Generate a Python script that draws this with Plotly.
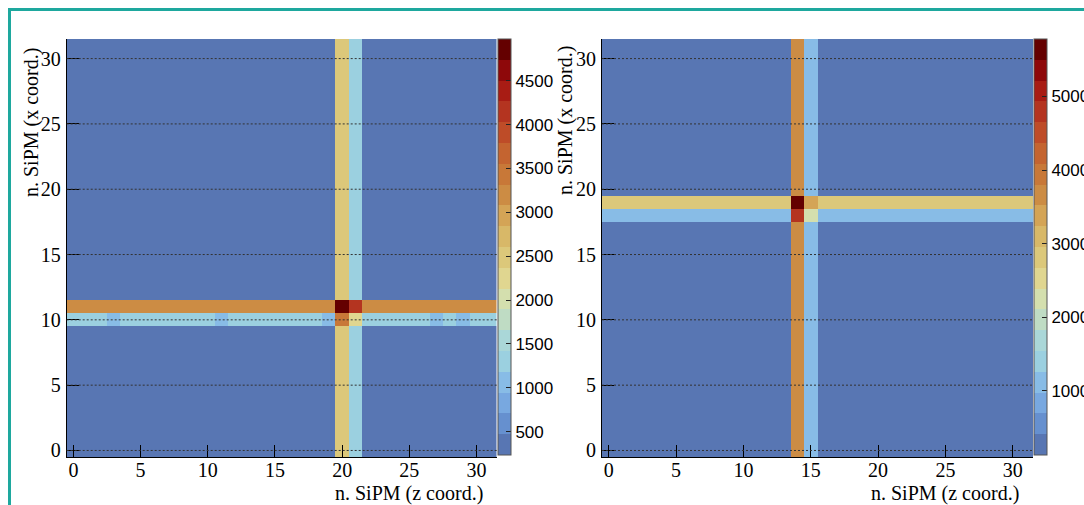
import plotly.graph_objects as go

W, H = 1084, 505

# SiPM indices along each coordinate
sipm = list(range(32))
tick_vals = [0, 5, 10, 15, 20, 25, 30]

# ---- left event: hit around z=20-21, x=10-11 ----
left_bg = 234
left_row10 = [1300, 1300, 1300, 1060, 1300, 1300, 1300, 1300, 1300, 1300, 1300, 1060, 1300, 1300, 1300, 1300,
              1300, 1300, 1300, 1060, 3550, 2250, 1300, 1300, 1300, 1300, 1300, 1060, 1300, 1060, 1300, 1300]
left_row11 = [3200, 3200, 3200, 3200, 3200, 3200, 3200, 3200, 3200, 3200, 3200, 3200, 3200, 3200, 3200, 3200,
              3200, 3200, 3200, 3200, 4975, 4200, 3200, 3200, 3200, 3200, 3200, 3200, 3200, 3200, 3200, 3200]
left_col20 = [2500, 2500, 2500, 2500, 2500, 2500, 2500, 2500, 2500, 2500, 3550, 4975, 2500, 2500, 2500, 2500,
              2500, 2500, 2500, 2500, 2500, 2500, 2500, 2500, 2500, 2500, 2500, 2500, 2500, 2500, 2500, 2500]
left_col21 = [1300, 1300, 1300, 1300, 1300, 1300, 1300, 1300, 1300, 1300, 2250, 4200, 1300, 1300, 1300, 1300,
              1300, 1300, 1300, 1300, 1300, 1300, 1300, 1300, 1300, 1300, 1300, 1300, 1300, 1300, 1300, 1300]
left_zmin, left_zmax = 234, 4975
left_cb_ticks = [500, 1000, 1500, 2000, 2500, 3000, 3500, 4000, 4500]

# ---- right event: hit around z=14-15, x=18-19 ----
right_bg = 130
right_row18 = [1100, 1100, 1100, 1100, 1100, 1100, 1100, 1100, 1100, 1100, 1100, 1100, 1100, 1100, 4790, 2250,
               1100, 1100, 1100, 1100, 1100, 1100, 1100, 1100, 1100, 1100, 1100, 1100, 1100, 1100, 1100, 1100]
right_row19 = [2810, 2810, 2810, 2810, 2810, 2810, 2810, 2810, 2810, 2810, 2810, 2810, 2810, 2810, 5780, 3380,
               2810, 2810, 2810, 2810, 2810, 2810, 2810, 2810, 2810, 2810, 2810, 2810, 2810, 2810, 2810, 2810]
right_col14 = [3650, 3650, 3650, 3650, 3650, 3650, 3650, 3650, 3650, 3650, 3650, 3650, 3650, 3650, 3650, 3650,
               3650, 3650, 4790, 5780, 3650, 3650, 3650, 3650, 3650, 3650, 3650, 3650, 3650, 3650, 3650, 3650]
right_col15 = [1080, 1080, 1080, 1080, 1080, 1080, 1080, 1080, 1080, 1080, 1080, 1080, 1080, 1080, 1080, 1080,
               1080, 1080, 2250, 3380, 1080, 1080, 1080, 1080, 1080, 1080, 1080, 1080, 1080, 1080, 1080, 1080]
right_zmin, right_zmax = 130, 5780
right_cb_ticks = [1000, 2000, 3000, 4000, 5000]

# 20-level palette (low -> high)
palette = ["#5876b3", "#6690cf", "#78a8e0", "#88bce6", "#9bd0e0", "#aad7d8", "#bfdcc4", "#d4dfae",
           "#e0d690", "#dcc87a", "#d8b868", "#d4a456", "#cc8c44", "#c87838", "#c46430", "#be4c28",
           "#b43420", "#a81c14", "#8e080a", "#640000"]


def stepped_scale(colors):
    n = len(colors)
    scale = []
    for k, c in enumerate(colors):
        scale.append([k / n, c])
        scale.append([(k + 1) / n, c])
    return scale


def build_grid(bg, rows, cols):
    grid = [[bg for _ in sipm] for _ in sipm]
    for r, vals in rows.items():
        for c, v in enumerate(vals):
            grid[r][c] = v
    for c, vals in cols.items():
        for r, v in enumerate(vals):
            grid[r][c] = v
    return grid


z_left = build_grid(left_bg, {10: left_row10, 11: left_row11}, {20: left_col20, 21: left_col21})
z_right = build_grid(right_bg, {18: right_row18, 19: right_row19}, {14: right_col14, 15: right_col15})


def px_x(p):
    return p / W


def px_y(p):
    return 1 - p / H


y_dom = [px_y(457), px_y(39)]
x_dom_l = [px_x(66.7), px_x(496.7)]
x_dom_r = [px_x(602), px_x(1033)]

SERIF = "Liberation Serif, Times New Roman, serif"
SANS = "Liberation Sans, Arial, sans-serif"


def colorbar(x_px, ticks):
    return dict(
        x=px_x(x_px), xanchor="left", y=px_y(455), yanchor="bottom",
        len=(455 - 39) / H, lenmode="fraction",
        thickness=13, thicknessmode="pixels", xpad=0, ypad=0,
        tickvals=ticks, ticks="inside", ticklen=5, tickcolor="#222",
        tickfont=dict(family=SANS, size=17, color="black"),
        outlinewidth=1, outlinecolor="#555",
    )


fig = go.Figure()
fig.add_trace(go.Heatmap(
    x=sipm, y=sipm, z=z_left, zmin=left_zmin, zmax=left_zmax,
    colorscale=stepped_scale(palette), colorbar=colorbar(498, left_cb_ticks),
    xaxis="x", yaxis="y", hoverinfo="x+y+z",
))
fig.add_trace(go.Heatmap(
    x=sipm, y=sipm, z=z_right, zmin=right_zmin, zmax=right_zmax,
    colorscale=stepped_scale(palette), colorbar=colorbar(1034, right_cb_ticks),
    xaxis="x2", yaxis="y2", hoverinfo="x+y+z",
))

axis_common = dict(
    range=[-0.5, 31.5], tickvals=tick_vals, ticks="inside", ticklen=12, tickcolor="black",
    showline=True, linecolor="black", linewidth=1, showgrid=False, zeroline=False,
    tickfont=dict(family=SERIF, size=20, color="black"), layer="above traces",
)

fig.update_layout(
    width=W, height=H,
    margin=dict(l=0, r=0, t=0, b=0, autoexpand=False),
    paper_bgcolor="white", plot_bgcolor="white",
    showlegend=False,
    xaxis=dict(domain=x_dom_l, anchor="y", ticklabelstandoff=-5, **axis_common),
    yaxis=dict(domain=y_dom, anchor="x", ticklabelstandoff=1, **axis_common),
    xaxis2=dict(domain=x_dom_r, anchor="y2", ticklabelstandoff=-5, **axis_common),
    yaxis2=dict(domain=y_dom, anchor="x2", ticklabelstandoff=1, **axis_common),
)

# dotted horizontal grid drawn over the cells
shapes = []
for xr, yr in (("x domain", "y"), ("x2 domain", "y2")):
    for t in tick_vals:
        shapes.append(dict(type="line", xref=xr, yref=yr, x0=0, x1=1, y0=t, y1=t,
                           line=dict(color="#333", width=1, dash="2px,2px"), layer="above"))
# teal frame around the canvas
shapes.append(dict(type="rect", xref="paper", yref="paper",
                   x0=px_x(9.5), x1=1.02, y0=-0.02, y1=px_y(9.5),
                   line=dict(color="#1ea89e", width=3), fillcolor="rgba(0,0,0,0)", layer="above"))
fig.update_layout(shapes=shapes)

title_font = dict(family=SERIF, size=20, color="black")
annotations = [
    dict(text="n. SiPM (z coord.)", xref="paper", yref="paper", x=px_x(485), y=px_y(493),
         xanchor="right", yanchor="middle", showarrow=False, font=title_font),
    dict(text="n. SiPM (z coord.)", xref="paper", yref="paper", x=px_x(1021), y=px_y(493),
         xanchor="right", yanchor="middle", showarrow=False, font=title_font),
    dict(text="n. SiPM (x coord.)", xref="paper", yref="paper", x=px_x(31), y=px_y(123),
         xanchor="center", yanchor="middle", textangle=-90, showarrow=False, font=title_font),
    dict(text="n. SiPM (x coord.)", xref="paper", yref="paper", x=px_x(565), y=px_y(121),
         xanchor="center", yanchor="middle", textangle=-90, showarrow=False, font=title_font),
]
fig.update_layout(annotations=annotations)

fig.write_html("out.html")
